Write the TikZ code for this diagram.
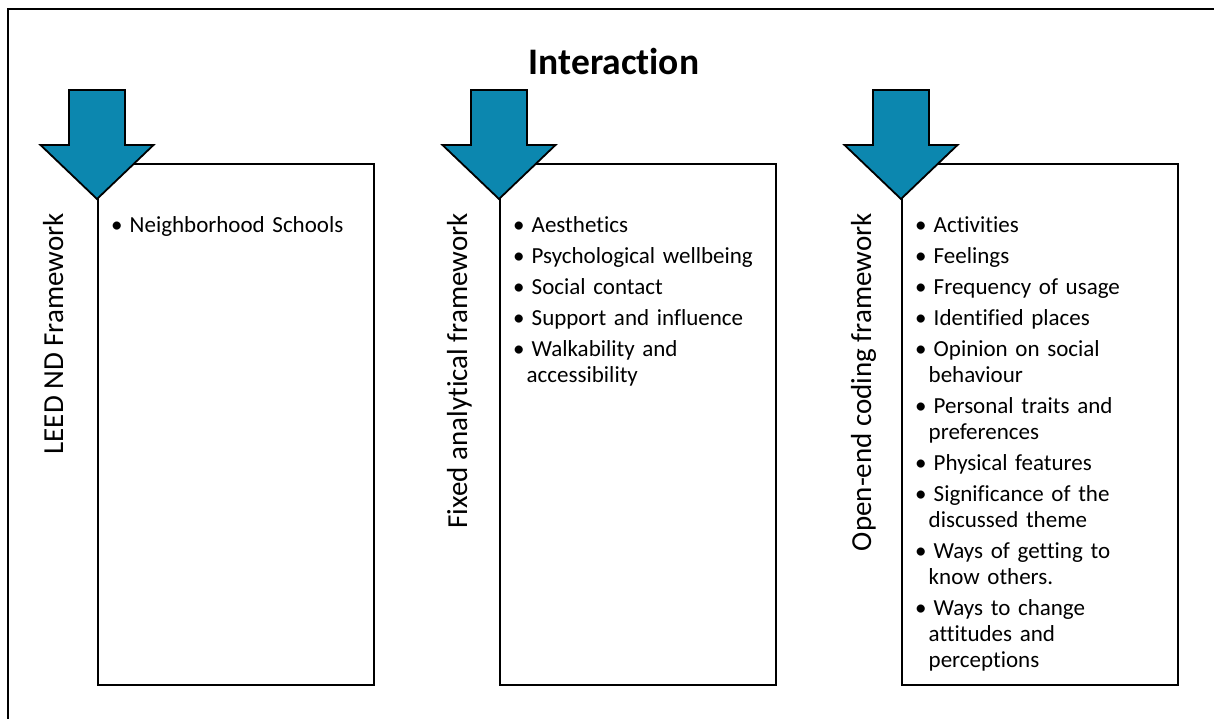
\documentclass[tikz,border=0pt]{standalone}
\usepackage{fontspec}
\setmainfont{Carlito}[Ligatures=NoCommon]
\usetikzlibrary{positioning}

\definecolor{arrowblue}{RGB}{12,135,175}

% one bullet line with hanging indent
\newcommand{\bitem}[1]{\par\hangindent=13.5pt\hangafter=1\noindent\makebox[18.5pt][l]{\textbullet}#1\par}

\begin{document}
\begin{tikzpicture}[
  x=1pt, y=-1pt,
  node distance=124pt,
  framebox/.style={rectangle, draw=black, line width=2pt,
             minimum width=276pt, minimum height=521pt, inner sep=0pt},
  listtext/.style={anchor=north west, inner sep=0pt, text width=255pt, align=left,
             font=\fontsize{23}{26}\selectfont,
             execute at begin node={\setlength{\parskip}{5pt}}},
  sidelabel/.style={rotate=90, anchor=base east, inner sep=0pt,
             font=\fontsize{29}{32}\selectfont},
  downarrow/.style={fill=arrowblue, draw=black, line width=1.8pt, line join=miter}
]
\useasboundingbox (0,0) rectangle (1214,718);

% outer frame (cut by the page)
\draw[line width=2pt] (8,730) -- (8,9) -- (1230,9);

\node[font=\fontsize{37.5}{42}\selectfont\bfseries, anchor=base] (title) at (614,74) {Interaction};

\node[framebox, anchor=north west] (leedbox) at (97,163) {};
\node[framebox, right=of leedbox] (fixedbox) {};
\node[framebox, right=of fixedbox] (openbox) {};

% arrows over the top left corners
\foreach \b in {leedbox, fixedbox, openbox} {
  \path (\b.north west) ++(0,36) coordinate (\b tip);
  \draw[downarrow] (\b tip) -- ++(-56.5,-54) -- ++(28.5,0) -- ++(0,-55)
    -- ++(56,0) -- ++(0,55) -- ++(28.5,0) -- cycle;
}

\node[sidelabel] (leedlabel) at ([shift={(-34,50)}]leedbox.north west) {LEED ND Framework};
\node[sidelabel] (fixedlabel) at ([shift={(-32,50)}]fixedbox.north west) {Fixed analytical framework};
\node[sidelabel] (openlabel) at ([shift={(-30,50)}]openbox.north west) {Open-end coding framework};

\node[listtext, below right=38pt and 14pt of leedbox.north west] (leedlist) {%
  \bitem{Neighborhood Schools}};
\node[listtext, below right=38pt and 14pt of fixedbox.north west] (fixedlist) {%
  \bitem{Aesthetics}
  \bitem{Psychological wellbeing}
  \bitem{Social contact}
  \bitem{Support and influence}
  \bitem{Walkability and\newline accessibility}};
\node[listtext, below right=38pt and 14pt of openbox.north west] (openlist) {%
  \bitem{Activities}
  \bitem{Feelings}
  \bitem{Frequency of usage}
  \bitem{Identified places}
  \bitem{Opinion on social\newline behaviour}
  \bitem{Personal traits and\newline preferences}
  \bitem{Physical features}
  \bitem{Significance of the\newline discussed theme}
  \bitem{Ways of getting to\newline know others.}
  \bitem{Ways to change\newline attitudes and\newline perceptions}};

\end{tikzpicture}
\end{document}
